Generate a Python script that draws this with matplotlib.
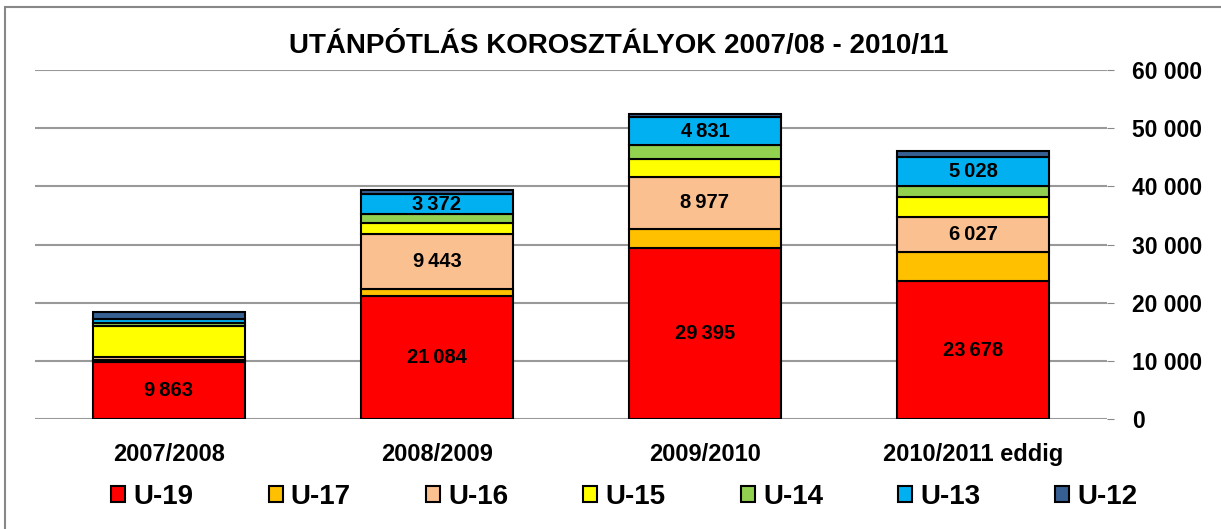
import numpy as np
import matplotlib
matplotlib.use("Agg")
import matplotlib.pyplot as plt
from matplotlib.patches import Rectangle

plt.rcParams['font.family'] = ['Liberation Sans', 'DejaVu Sans']

# categories and series
seasons = ['2007/2008', '2008/2009', '2009/2010', '2010/2011 eddig']
groups = ['U-19', 'U-17', 'U-16', 'U-15', 'U-14', 'U-13', 'U-12']
u19 = [9863, 21084, 29395, 23678]
u17 = [200, 1300, 3300, 5000]
u16 = [600, 9443, 8977, 6027]
u15 = [5400, 1900, 3000, 3500]
u14 = [500, 1500, 2400, 1800]
u13 = [600, 3372, 4831, 5028]
u12 = [1300, 800, 500, 1100]
colors = ['#FF0000', '#FFC000', '#FAC090', '#FFFF00', '#92D050', '#00B0F0', '#376092']
# which series get value labels in which bars
labelled = {'U-19': [0, 1, 2, 3], 'U-16': [1, 2, 3], 'U-13': [1, 2, 3]}

series = [u19, u17, u16, u15, u14, u13, u12]

fig = plt.figure(figsize=(12.21, 5.29), dpi=100)
ax = fig.add_axes([35/1221, 1 - 419/529, 1072/1221, 349/529])

x = np.arange(len(seasons))
bottom = np.zeros(len(seasons))
for name, vals, col in zip(groups, series, colors):
    vals = np.array(vals, dtype=float)
    ax.bar(x, vals, bottom=bottom, width=0.57, color=col, edgecolor='black',
           linewidth=1.5, label=name, zorder=3)
    for i in labelled.get(name, []):
        txt = f"{int(vals[i]):,}".replace(',', '\u2009')
        ax.text(x[i], bottom[i] + vals[i] / 2, txt, ha='center', va='center',
                fontsize=14.5, fontweight='bold', zorder=4)
    bottom += vals

ax.set_xlim(-0.5, 3.5)
ax.set_ylim(0, 60000)
ax.set_yticks(range(0, 60001, 10000))
ax.set_yticklabels([f"{v:,}".replace(',', ' ') for v in range(0, 60001, 10000)],
                   fontsize=16.5, fontweight='bold')
ax.yaxis.tick_right()
ax.tick_params(axis='y', length=5, color='#888888', pad=13)
ax.tick_params(axis='x', length=0, pad=17)
ax.set_xticks(x)
ax.set_xticklabels(seasons, fontsize=17, fontweight='bold')
ax.grid(axis='y', color='#999999', linewidth=1.5, zorder=0)
for s in ax.spines.values():
    s.set_visible(False)

fig.text(0.5 + 8/1221, 1 - 46/529, 'UTÁNPÓTLÁS KOROSZTÁLYOK 2007/08 - 2010/11',
         ha='center', va='center', fontsize=20, fontweight='bold')

fig.legend(loc='center', bbox_to_anchor=(0.5 + 14/1221, 1 - 497/529), ncol=7, frameon=False,
           prop={'size': 20, 'weight': 'bold'}, handlelength=0.5, handleheight=0.5,
           handletextpad=0.3, columnspacing=2.7)

# outer chart border
fig.patches.append(Rectangle((5/1221, -0.1), 1.2, 1 - 7/529 + 0.1, transform=fig.transFigure,
                             fill=False, edgecolor='#888888', linewidth=1.5))

fig.savefig('out.png', dpi=100)
